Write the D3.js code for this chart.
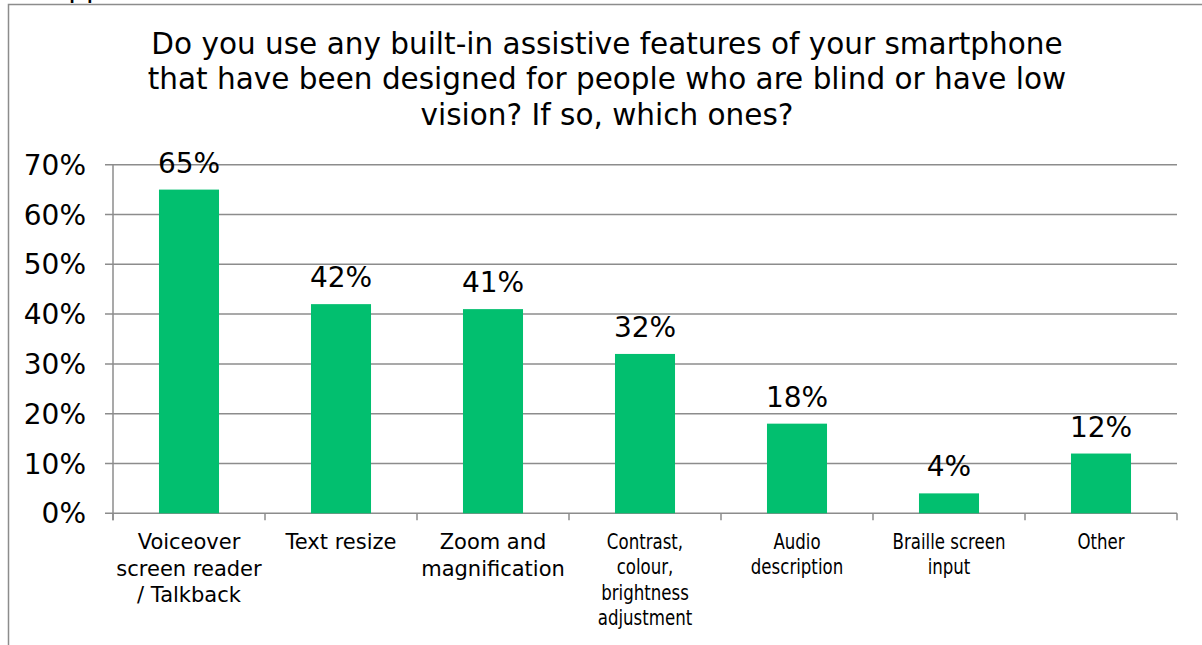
<!DOCTYPE html>
<html>
<head>
<meta charset="utf-8">
<script src="https://cdn.jsdelivr.net/npm/d3@7"></script>
<style>
  html, body { margin: 0; padding: 0; background: #fff; }
  svg { display: block; font-family: "DejaVu Sans", Verdana, sans-serif; }
</style>
</head>
<body>
<svg id="chart" width="1202" height="645"></svg>
<script>
// Survey answers: share of respondents using each built-in feature (%)
const categories = [
  ["Voiceover", "screen reader", "/ Talkback"],
  ["Text resize"],
  ["Zoom and", "magnification"],
  ["Contrast,", "colour,", "brightness", "adjustment"],
  ["Audio", "description"],
  ["Braille screen", "input"],
  ["Other"]
];
const values = [65, 42, 41, 32, 18, 4, 12];
const yTicks = [0, 10, 20, 30, 40, 50, 60, 70];
const titleLines = [
  "Do you use any built-in assistive features of your smartphone",
  "that have been designed for people who are blind or have low",
  "vision? If so, which ones?"
];

const svg = d3.select("#chart");
const W = 1202, H = 645;
const plot = { left: 113, right: 1177, top: 164.7, bottom: 513.3 };
const grey = "#8c8c8c";

// Frame of the chart container
svg.append("path")
  .attr("d", `M8.5,${H} V4.5 H${W}`)
  .attr("fill", "none")
  .attr("stroke", grey)
  .attr("stroke-width", 1.5);

// Page heading above the frame (only its descenders reach into view)
svg.append("text")
  .attr("x", 49).attr("y", -3)
  .attr("font-size", 28)
  .attr("fill", "#000")
  .text("Apps");

// Title
svg.append("g").selectAll("text")
  .data(titleLines)
  .join("text")
  .attr("x", 607)
  .attr("y", (d, i) => 53.5 + i * 35.5)
  .attr("text-anchor", "middle")
  .attr("font-size", 29.5)
  .attr("fill", "#000")
  .text(d => d);

const x = d3.scaleBand()
  .domain(d3.range(categories.length))
  .range([plot.left, plot.right])
  .paddingInner(0.605)
  .paddingOuter(0.3025);

const xStep = x.step();

const y = d3.scaleLinear()
  .domain([0, 70])
  .range([plot.bottom, plot.top]);

// Horizontal gridlines
svg.append("g").selectAll("line")
  .data(yTicks)
  .join("line")
  .attr("x1", plot.left - 8)
  .attr("x2", plot.right)
  .attr("y1", d => y(d))
  .attr("y2", d => y(d))
  .attr("stroke", grey)
  .attr("stroke-width", 1.5);

// Y axis line
svg.append("line")
  .attr("x1", plot.left).attr("x2", plot.left)
  .attr("y1", plot.top).attr("y2", plot.bottom + 7)
  .attr("stroke", grey).attr("stroke-width", 1.5);

// Y tick labels
svg.append("g").selectAll("text")
  .data(yTicks)
  .join("text")
  .attr("x", 86)
  .attr("y", d => y(d))
  .attr("dy", "0.36em")
  .attr("text-anchor", "end")
  .attr("font-size", 28)
  .attr("fill", "#000")
  .text(d => d + "%");

// X tick marks at category boundaries
svg.append("g").selectAll("line")
  .data(d3.range(categories.length + 1))
  .join("line")
  .attr("x1", i => plot.left + i * xStep)
  .attr("x2", i => plot.left + i * xStep)
  .attr("y1", plot.bottom)
  .attr("y2", plot.bottom + 7)
  .attr("stroke", grey)
  .attr("stroke-width", 1.5);

// Bars
svg.append("g").selectAll("rect")
  .data(values)
  .join("rect")
  .attr("x", (d, i) => x(i))
  .attr("width", x.bandwidth())
  .attr("y", d => y(d))
  .attr("height", d => y(0) - y(d))
  .attr("fill", "#02BF6F");

// Value labels
svg.append("g").selectAll("text")
  .data(values)
  .join("text")
  .attr("x", (d, i) => x(i) + x.bandwidth() / 2)
  .attr("y", d => y(d) - 17)
  .attr("text-anchor", "middle")
  .attr("font-size", 28)
  .attr("fill", "#000")
  .text(d => d + "%");

// Category labels (multi-line); the right-hand ones are set narrower
const narrow = i => i >= 3;
const catG = svg.append("g").selectAll("text")
  .data(categories)
  .join("text")
  .attr("text-anchor", "middle")
  .attr("fill", "#000")
  .attr("font-size", 21)
  .attr("font-family", (d, i) => narrow(i) ? "'DejaVu Sans Condensed', 'DejaVu Sans', sans-serif" : null)
  .attr("font-stretch", (d, i) => narrow(i) ? "condensed" : null)
  .attr("transform", (d, i) =>
    `translate(${x(i) + x.bandwidth() / 2},0) scale(${narrow(i) ? 0.88 : 1},1)`);

catG.selectAll("tspan")
  .data((d, i) => d.map(line => ({ line, i })))
  .join("tspan")
  .attr("x", 0)
  .attr("y", (d, j) => 549 + j * (narrow(d.i) ? 25.5 : 26.7))
  .text(d => d.line);
</script>
</body>
</html>
